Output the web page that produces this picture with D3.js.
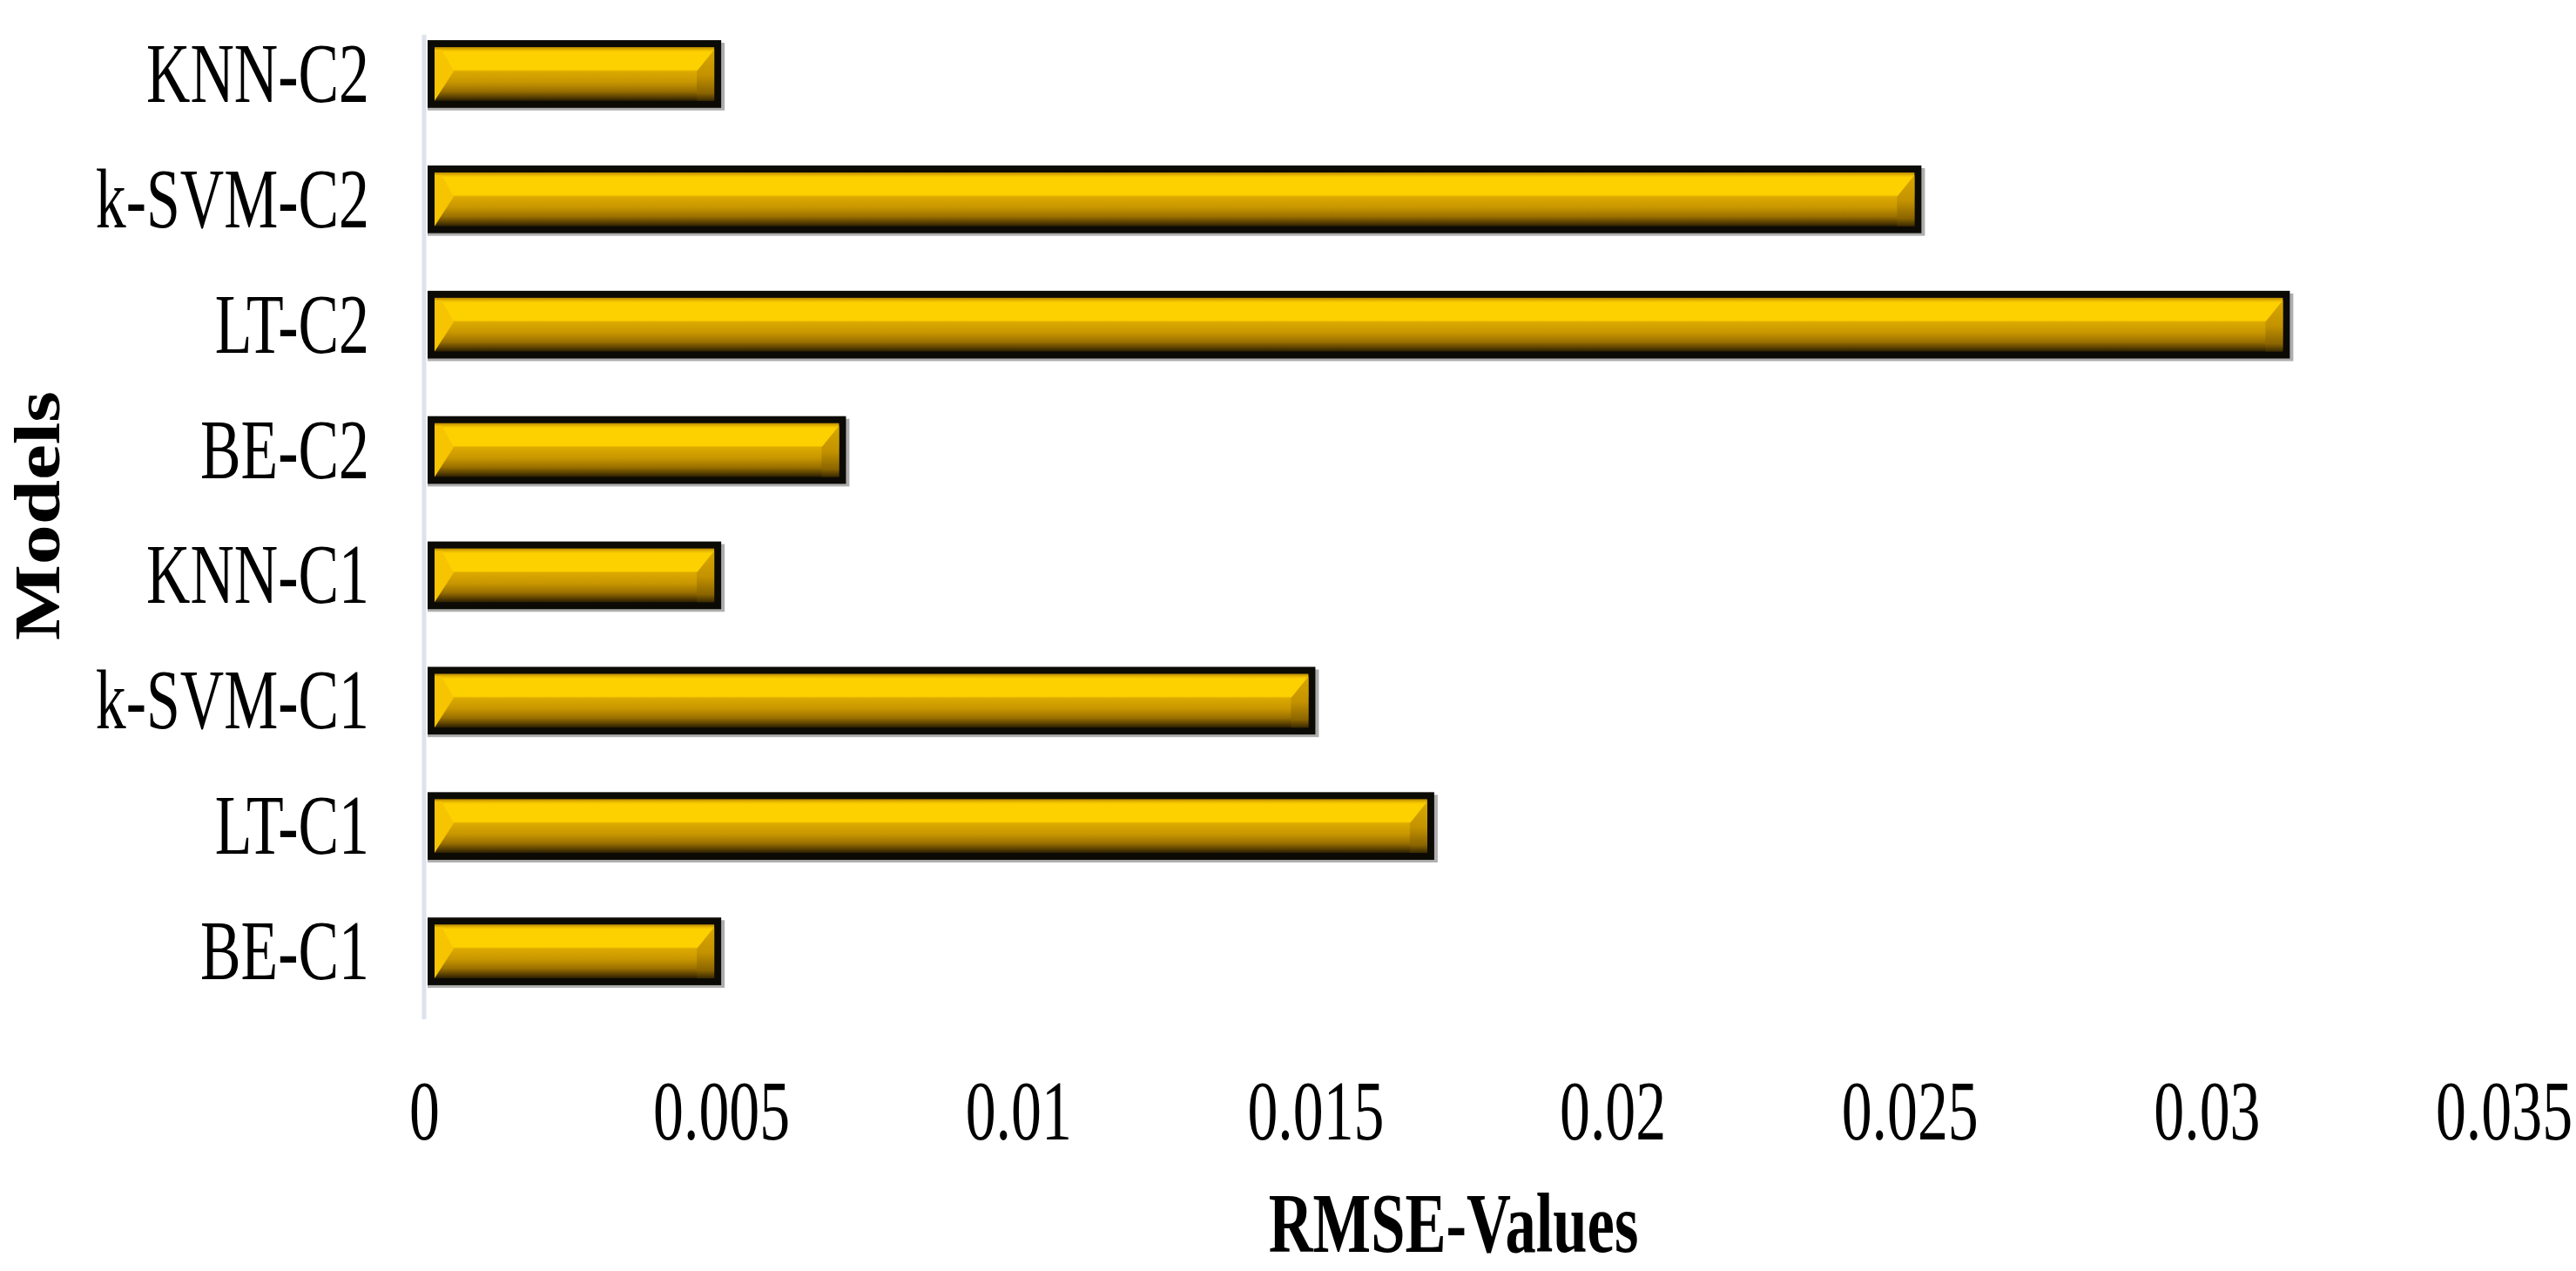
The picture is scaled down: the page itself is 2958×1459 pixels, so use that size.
<html>
<head>
<script src="https://d3js.org/d3.v7.min.js"></script>
<style>
body { margin: 0; background: #ffffff; }
text { font-family: "Liberation Serif", "Times New Roman", serif; fill: #000; }
</style>
</head>
<body>
<script>
// data, bottom to top as in the picture
let models = ["BE-C1", "LT-C1", "k-SVM-C1", "KNN-C1", "BE-C2", "LT-C2", "k-SVM-C2", "KNN-C2"];
let rmse = [0.005, 0.017, 0.015, 0.005, 0.0071, 0.0314, 0.0252, 0.005];
let xTicks = [0, 0.005, 0.01, 0.015, 0.02, 0.025, 0.03, 0.035];
let xTickLabels = ["0", "0.005", "0.01", "0.015", "0.02", "0.025", "0.03", "0.035"];

let width = 2958;
let height = 1459;
let squeeze = 0.72;

let svg = d3.select("body").append("svg")
    .attr("width", width)
    .attr("height", height);

let defs = svg.append("defs");
let grad = defs.append("linearGradient").attr("id", "gold")
    .attr("x1", 0).attr("y1", 0).attr("x2", 0).attr("y2", 1);
[[0, "#b88a00"], [0.05, "#e8b800"], [0.09, "#fdd000"], [0.42, "#fdd000"], [0.45, "#dcaa00"],
 [0.65, "#c89600"], [0.82, "#9a7000"], [0.93, "#5a4000"], [1, "#2a1e00"]].forEach(s => {
    grad.append("stop").attr("offset", s[0]).attr("stop-color", s[1]);
});
let gradEnd = defs.append("linearGradient").attr("id", "goldEnd")
    .attr("x1", 0).attr("y1", 0).attr("x2", 0).attr("y2", 1);
[[0, "#d8a800"], [0.5, "#c49200"], [0.85, "#8a6400"], [1, "#3a2a00"]].forEach(s => {
    gradEnd.append("stop").attr("offset", s[0]).attr("stop-color", s[1]);
});

let x = d3.scaleLinear().domain([0, 0.035]).range([487, 2875]);
let y = d3.scaleBand().domain(models.slice().reverse()).range([13, 1164]).paddingInner(0.46).paddingOuter(0.23);

// vertical axis line
svg.append("line")
    .attr("x1", x(0)).attr("x2", x(0))
    .attr("y1", 40).attr("y2", 1170)
    .attr("stroke", "#dde2eb")
    .attr("stroke-width", 5);

// bars
let bars = svg.append("g").selectAll("g")
    .data(models)
    .enter()
    .append("g");

let bw = 8;
bars.append("rect")
    .attr("x", x(0) + 4)
    .attr("y", d => y(d) + 3)
    .attr("width", (d, i) => x(rmse[i]) - x(0))
    .attr("height", y.bandwidth())
    .attr("fill", "#9a9a9a")
    .attr("opacity", 0.8);
bars.append("rect")
    .attr("x", x(0) + 4)
    .attr("y", d => y(d))
    .attr("width", (d, i) => x(rmse[i]) - x(0) - 4)
    .attr("height", y.bandwidth())
    .attr("fill", "#0c0a05");
bars.append("rect")
    .attr("x", x(0) + 4 + bw)
    .attr("y", d => y(d) + bw)
    .attr("width", (d, i) => x(rmse[i]) - x(0) - 4 - 2 * bw)
    .attr("height", y.bandwidth() - 2 * bw)
    .attr("fill", "url(#gold)");
// left bevel
bars.append("polygon")
    .attr("points", d => {
        let x0 = x(0) + 4 + bw, top = y(d) + bw, bot = y(d) + y.bandwidth() - bw;
        let mid = top + (bot - top) * 0.45;
        return [[x0, top + 3], [x0 + 8, top + 3], [x0 + 22, mid], [x0, bot]].join(" ");
    })
    .attr("fill", "#f6c400");
// right bevel
bars.append("polygon")
    .attr("points", (d, i) => {
        let x1 = x(rmse[i]) - bw, top = y(d) + bw, bot = y(d) + y.bandwidth() - bw;
        let mid = top + (bot - top) * 0.45;
        return [[x1, top + 3], [x1 - 20, mid], [x1 - 20, bot], [x1, bot]].join(" ");
    })
    .attr("fill", "url(#goldEnd)");

// x axis
let xAxis = svg.append("g")
    .attr("transform", "translate(0,1170)")
    .call(d3.axisBottom(x).tickValues(xTicks).tickFormat((d, i) => xTickLabels[i]).tickSize(0));
xAxis.select(".domain").remove();
xAxis.selectAll("text")
    .attr("y", 0)
    .attr("dy", 0)
    .attr("transform", "translate(0,138) scale(" + squeeze + ",1)")
    .attr("font-family", "Liberation Serif")
    .attr("font-size", 97)
    .attr("fill", "#000");

// y axis
let yAxis = svg.append("g")
    .attr("transform", "translate(" + x(0) + ",0)")
    .call(d3.axisLeft(y).tickSize(0));
yAxis.select(".domain").remove();
yAxis.selectAll("text")
    .attr("x", 0)
    .attr("dy", 0)
    .attr("transform", "translate(-63,32) scale(" + squeeze + ",1)")
    .attr("text-anchor", "end")
    .attr("font-family", "Liberation Serif")
    .attr("font-size", 97)
    .attr("fill", "#000");

// axis titles
svg.append("text")
    .attr("transform", "translate(1669,1437) scale(" + squeeze + ",1)")
    .attr("text-anchor", "middle")
    .attr("font-weight", "bold")
    .attr("font-size", 98)
    .text("RMSE-Values");

svg.append("text")
    .attr("transform", "translate(68,592) scale(0.8,1) rotate(-90)")
    .attr("text-anchor", "middle")
    .attr("font-weight", "bold")
    .attr("font-size", 92)
    .text("Models");
</script>
</body>
</html>
